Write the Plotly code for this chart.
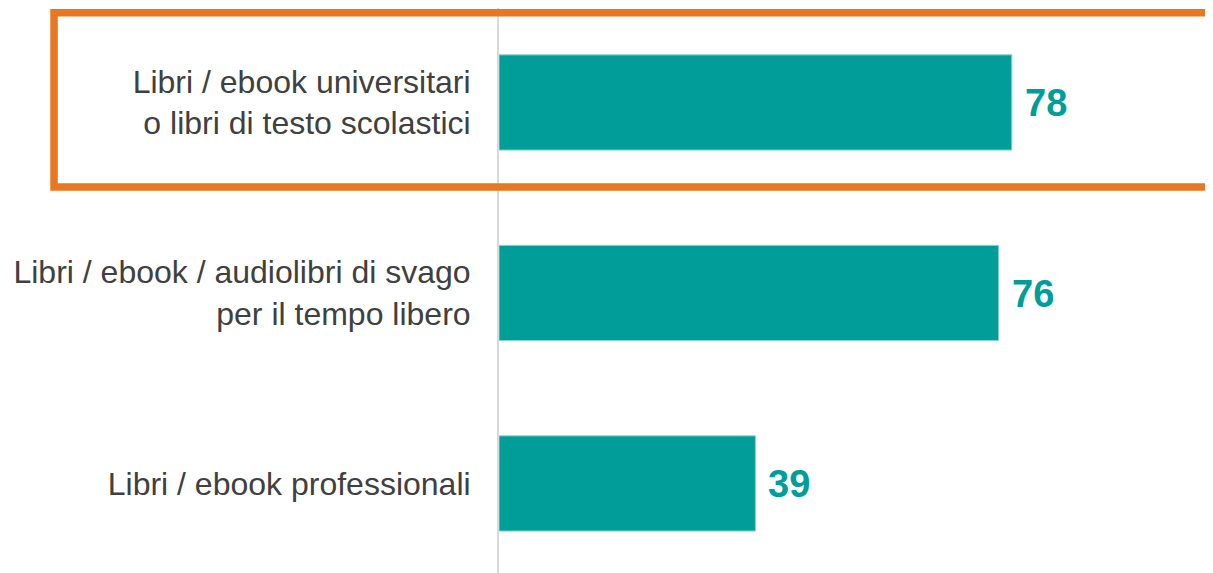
import plotly.graph_objects as go

categories = [
    "Libri / ebook universitari<br>o libri di testo scolastici",
    "Libri / ebook / audiolibri di svago<br>per il tempo libero",
    "Libri / ebook professionali",
]
values = [78, 76, 39]

TEAL = "#009D99"
ORANGE = "#E87722"
FONT = "Liberation Sans, Arial, sans-serif"

fig = go.Figure()
fig.add_trace(go.Bar(
    y=categories,
    x=values,
    orientation="h",
    width=0.5,
    marker=dict(color=TEAL, line=dict(color="#8FD3D1", width=1)),
    hoverinfo="skip",
))

for c, v in zip(categories, values):
    fig.add_annotation(
        x=v, y=c, xref="x", yref="y",
        text=f"<b>{v}</b>",
        showarrow=False,
        xanchor="left", yanchor="middle",
        xshift=11, yshift=-1,
        font=dict(family=FONT, size=38, color=TEAL),
    )

# highlight frame around the first category
fig.add_shape(
    type="rect", xref="paper", yref="paper",
    x0=-0.6232, x1=1.03, y0=0.6832, y1=0.9914,
    line=dict(color=ORANGE, width=7.5),
    fillcolor="rgba(0,0,0,0)",
    layer="above",
)

fig.update_layout(
    width=1205, height=565,
    margin=dict(l=491, r=0, t=0, b=0),
    paper_bgcolor="white",
    plot_bgcolor="white",
    showlegend=False,
    font=dict(family=FONT, size=32, color="#404040"),
    xaxis=dict(range=[0, 108.6], visible=False, fixedrange=True),
    yaxis=dict(
        type="category",
        range=[2.470, -0.496],
        showline=True, linecolor="#D9D9D9", linewidth=2,
        showgrid=False, zeroline=False,
        ticks="", ticklabelstandoff=20,
        tickfont=dict(family=FONT, size=32, color="#404040"),
    ),
)

fig.write_html("out.html")
